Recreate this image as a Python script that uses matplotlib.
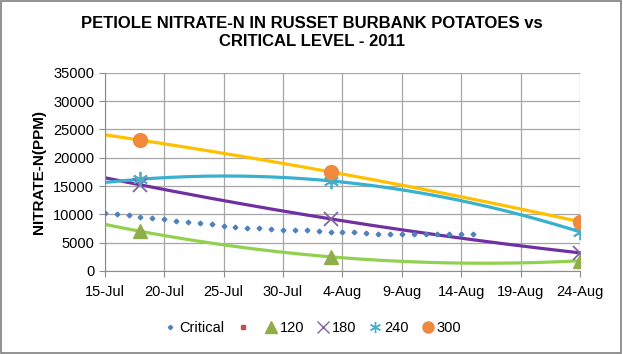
import numpy as np
import pandas as pd
import matplotlib
matplotlib.use("Agg")
import matplotlib.pyplot as plt
import matplotlib.dates as mdates
from matplotlib.lines import Line2D
from matplotlib.patches import Rectangle

plt.rcParams['font.family'] = ['Liberation Sans', 'DejaVu Sans']

# sample dates and petiole nitrate-N readings per N rate (ppm)
sample_dates = ['2011-07-18', '2011-08-03', '2011-08-24']
n120 = [7000, 2500, 1800]
n180 = [15200, 9200, 3200]
n240 = [16200, 15900, 6900]
n300 = [23100, 17500, 8700]

# critical level, daily from 15-Jul to 15-Aug
critical_start = '2011-07-15'
critical = [10300, 10050, 9850, 9600, 9350, 9150, 8900, 8650, 8450, 8250,
            7950, 7750, 7650, 7550, 7450, 7300, 7200, 7150, 7100, 6950,
            6850, 6800, 6700, 6600, 6500, 6500, 6500, 6500, 6450, 6500,
            6500, 6500]

tick_labels = ['15-Jul', '20-Jul', '25-Jul', '30-Jul', '4-Aug', '9-Aug',
               '14-Aug', '19-Aug', '24-Aug']

series = [
    ('120', n120, '^', '#8FAE4A', '#92D050'),
    ('180', n180, 'x', '#8064A2', '#7030A0'),
    ('240', n240, (6, 2, 0), '#4BACC6', '#38B0D0'),
    ('300', n300, 'o', '#F0883E', '#FFC000'),
]

fig = plt.figure(figsize=(6.23, 3.54), dpi=100)
ax = fig.add_axes([0.1682, 0.2345, 0.931 - 0.1682, 0.7946 - 0.2345])

dates = pd.to_datetime(sample_dates)
x = mdates.date2num(dates)
x0 = mdates.date2num(pd.Timestamp('2011-07-15'))
x1 = mdates.date2num(pd.Timestamp('2011-08-24'))
xs = np.linspace(x0, x1, 200)

crit_dates = pd.date_range(critical_start, periods=len(critical), freq='D')
ax.plot(crit_dates, critical, linestyle='none', marker='D', markersize=2.4,
        color='#4F81BD', zorder=3)

for name, vals, mk, mcol, lcol in series:
    # 2nd order polynomial trendline, extended back to 15-Jul
    coef = np.polyfit(x - x0, vals, 2)
    ax.plot(xs, np.polyval(coef, xs - x0), color=lcol, linewidth=2.3, zorder=2)
    if mk == 'x':
        ax.plot(dates, vals, linestyle='none', marker=mk, markersize=10,
                markeredgewidth=1.3, color=mcol, zorder=4)
    elif isinstance(mk, tuple):
        ax.plot(dates, vals, linestyle='none', marker=mk, markersize=11,
                markeredgewidth=1.3, color=mcol, zorder=4)
    else:
        ax.plot(dates, vals, linestyle='none', marker=mk, markersize=10,
                color=mcol, markeredgecolor=mcol, zorder=4)

ticks = pd.date_range('2011-07-15', '2011-08-24', freq='5D')
ax.set_xticks(mdates.date2num(ticks))
ax.set_xticklabels(tick_labels)
ax.set_xlim(x0, x1)
ax.set_ylim(0, 35000)
ax.set_yticks(np.arange(0, 35001, 5000))

ax.grid(True, color='#A6A6A6', linewidth=0.9)
ax.set_axisbelow(True)
for s in ['top', 'right']:
    ax.spines[s].set_visible(False)
for s in ['left', 'bottom']:
    ax.spines[s].set_color('#8C8C8C')
ax.tick_params(axis='both', colors='#8C8C8C', length=4, labelsize=10.5,
               labelcolor='black')
ax.tick_params(axis='x', pad=6)

ax.set_ylabel('NITRATE-N(PPM)', fontsize=11, fontweight='bold', labelpad=5)

fig.text(0.501, 0.935, 'PETIOLE NITRATE-N IN RUSSET BURBANK POTATOES vs',
         ha='center', va='center', fontsize=12, fontweight='bold')
fig.text(0.501, 0.882, 'CRITICAL LEVEL - 2011', ha='center', va='center',
         fontsize=12, fontweight='bold')

handles = [
    Line2D([], [], linestyle='none', marker='D', markersize=2.2, color='#4F81BD'),
    Line2D([], [], linestyle='none', marker='s', markersize=3.5, color='#C0504D'),
]
for name, vals, mk, mcol, lcol in series:
    handles.append(Line2D([], [], linestyle='none', marker=mk, markersize=8,
                          markeredgewidth=1, color=mcol))
labels = ['Critical', '', '120', '180', '240', '300']
fig.legend(handles, labels, loc='center', bbox_to_anchor=(0.502, 0.074),
           ncol=6, frameon=False, fontsize=10.5, handletextpad=0.2,
           columnspacing=0.9, handlelength=0.8)

fig.patches.append(Rectangle((0.002, 0.003), 0.995, 0.993, transform=fig.transFigure,
                             fill=False, edgecolor='#7F7F7F', linewidth=1.2))

fig.savefig('out.png', dpi=100)
